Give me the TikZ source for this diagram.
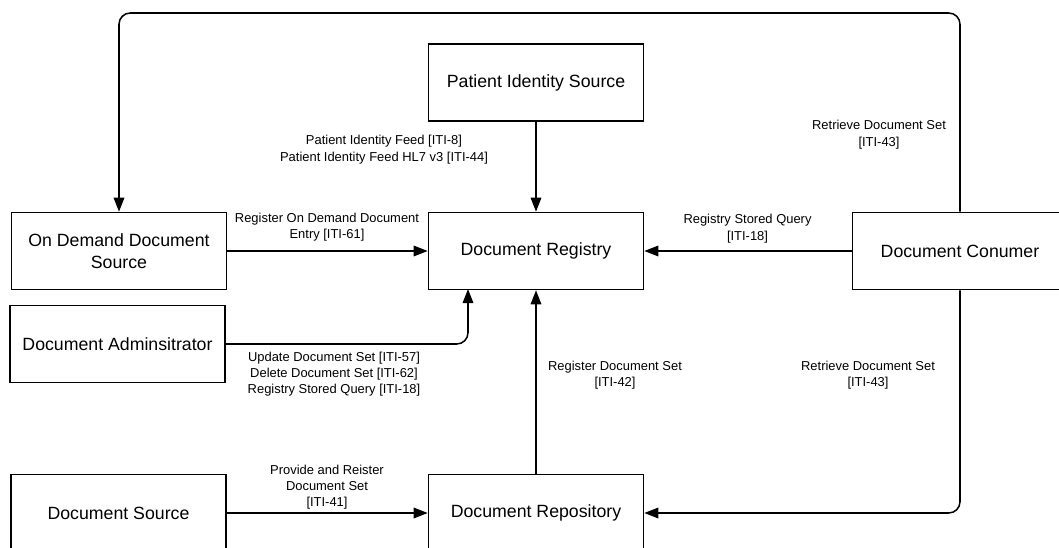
\documentclass[tikz,border=0pt]{standalone}
\usepackage{fontspec}
\setmainfont{Liberation Sans}
\usetikzlibrary{arrows.meta,positioning}

\newlength{\pxu}
\setlength{\pxu}{0.025cm}
\tikzset{
  actor/.style={draw, line width=1.1pt, minimum width=215\pxu, minimum height=77\pxu,
    align=center, inner sep=0pt, font=\fontsize{12.6}{15.8}\selectfont},
  flow/.style={line width=1.1pt, -{Triangle[length=10pt,width=7.5pt]}},
  txn/.style={align=center, inner sep=0pt, font=\fontsize{9.2}{11.6}\selectfont}
}

\begin{document}
\begin{tikzpicture}[x=0.025cm, y=-0.025cm]

\useasboundingbox (0,0) rectangle (1059,547);

% actors
\node[actor] (pis) at (536,82.5) {Patient Identity Source};
\node[actor] (reg) at (536,251) {Document Registry};
\node[actor] (odds) at (119,251) {On Demand Document\\Source};
\node[actor] (admin) at (117.5,344) {Document Adminsitrator};
\node[actor] (cons) at (960,251) {Document Conumer};
\node[actor] (src) at (118.5,513) {Document Source};
\node[actor] (repo) at (536,513) {Document Repository};

\coordinate (topL) at (119,13);
\coordinate (topR) at (960,13);
\coordinate (regA) at (468,289);

% transactions
\draw[flow] (pis) -- (reg);
\draw[flow] (odds) -- (reg);
\draw[flow, rounded corners=8pt] (admin.east) -| (regA);
\draw[flow] (cons) -- (reg);
\draw[flow, rounded corners=8pt] (cons.north) -- (topR) -- (topL) -- (odds.north);
\draw[flow, rounded corners=8pt] (cons.south) |- (repo.east);
\draw[flow] (repo) -- (reg);
\draw[flow] (src) -- (repo);

% labels
\node[txn] (lpis) at (384,149.5) {Patient Identity Feed [ITI-8]\\Patient Identity Feed HL7 v3 [ITI-44]};
\node[txn] (lodds) at (327,227) {Register On Demand Document\\Entry [ITI-61]};
\node[txn] (ladmin) at (334,374) {Update Document Set [ITI-57]\\Delete Document Set [ITI-62]\\Registry Stored Query [ITI-18]};
\node[txn] (lcons) at (747.5,228.5) {Registry Stored Query\\{}[ITI-18]};
\node[txn] (ltop) at (879,134.5) {Retrieve Document Set\\{}[ITI-43]};
\node[txn] (lbot) at (868,375) {Retrieve Document Set\\{}[ITI-43]};
\node[txn] (lrepo) at (615,375) {Register Document Set\\{}[ITI-42]};
\node[txn] (lsrc) at (327,487) {Provide and Reister\\Document Set\\{}[ITI-41]};

\end{tikzpicture}
\end{document}
